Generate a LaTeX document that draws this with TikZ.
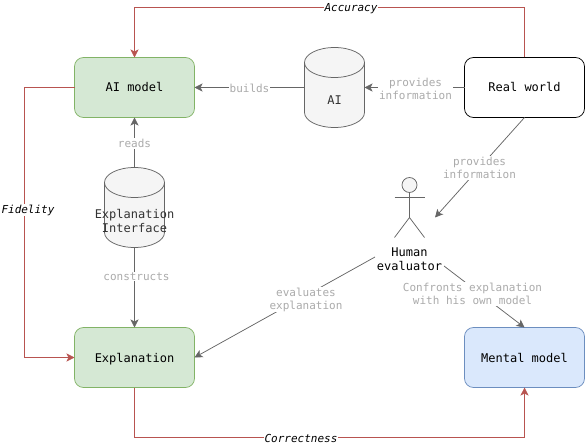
\documentclass[tikz,border=0pt]{standalone}
\usepackage{fontspec}
\setmainfont{DejaVu Sans Mono}
\usetikzlibrary{arrows.meta}
\definecolor{conngray}{HTML}{666666}
\definecolor{labgray}{HTML}{ABABAB}
\definecolor{redline}{HTML}{B85450}
\definecolor{greenfill}{HTML}{D5E8D4}
\definecolor{greenline}{HTML}{82B366}
\definecolor{bluefill}{HTML}{DAE8FC}
\definecolor{blueline}{HTML}{6C8EBF}
\definecolor{cylfill}{HTML}{F5F5F5}
\definecolor{cyltext}{HTML}{333333}
\tikzset{
  x=1pt,y=-1pt,
  every node/.style={outer sep=0pt},
  boxnode/.style={rectangle,rounded corners=9pt,minimum width=120pt,minimum height=60pt,line width=0.75pt,font=\fontsize{12}{14}\selectfont,text=black,text height=9pt,text depth=0pt},
  greenbox/.style={boxnode,draw=greenline,fill=greenfill},
  bluebox/.style={boxnode,draw=blueline,fill=bluefill},
  whitebox/.style={boxnode,draw=black,fill=white},
  cylnode/.style={rectangle,minimum width=60pt,minimum height=80pt,inner sep=0pt},
  cylpath/.style={draw=conngray,fill=cylfill,line width=0.75pt},
  cyllabel/.style={font=\fontsize{12}{14}\selectfont,text=cyltext,align=center,inner sep=0pt},
  conn/.style={draw=conngray,line width=0.75pt,-{Stealth[length=8pt,width=8pt,inset=2pt]}},
  redconn/.style={draw=redline,line width=0.75pt,-{Stealth[length=8pt,width=8pt,inset=2pt]}},
  edgelabel/.style={fill=white,text=labgray,align=center,inner sep=1pt,font=\fontsize{11}{13}\selectfont},
  redlabel/.style={fill=white,text=black,inner sep=0.5pt,font=\fontsize{11}{13}\selectfont\itshape},
  actorline/.style={draw=conngray,line width=0.75pt},
}
\newcommand{\cyldraw}[1]{%
  \draw[cylpath] ([yshift=-15pt]#1.north west) arc[start angle=180,end angle=0,x radius=30pt,y radius=15pt]
    -- ([yshift=15pt]#1.south east) arc[start angle=0,end angle=-180,x radius=30pt,y radius=15pt] -- cycle;
  \draw[cylpath,fill=none] ([yshift=-15pt]#1.north west) arc[start angle=180,end angle=360,x radius=30pt,y radius=15pt];
}
\begin{document}
\begin{tikzpicture}
\useasboundingbox (0,0) rectangle (585,446);
% boxes
\node[greenbox] (aimodel) at (134.5,87.5) {AI model};
\node[greenbox] (explanation) at (134.5,357.5) {Explanation};
\node[whitebox] (real) at (524.5,87.5) {Real world};
\node[bluebox] (mental) at (524.5,357.5) {Mental model};
% cylinders
\node[cylnode] (aicyl) at (334.5,87.5) {};
\node[cylnode] (ifcyl) at (134.5,207.5) {};
\cyldraw{aicyl}
\cyldraw{ifcyl}
\node[cyllabel] (aitext) at (334.5,100.5) {AI};
\node[cyllabel] (iftext) at (134.5,221) {Explanation\\Interface};
% actor
\node[circle,draw=conngray,fill=cylfill,line width=0.75pt,minimum size=15pt,inner sep=0pt] (head) at (409.5,185) {};
\coordinate (hip) at (409.5,217.5);
\coordinate (armL) at (394.5,197.5);
\coordinate (armR) at (424.5,197.5);
\coordinate (legL) at (394.5,237.5);
\coordinate (legR) at (424.5,237.5);
\draw[actorline] (head.south) -- (hip);
\draw[actorline] (armL) -- (armR);
\draw[actorline] (legL) -- (hip) -- (legR);
\node[align=center,inner sep=1pt,font=\fontsize{12}{14}\selectfont] (human) at (409.5,259) {Human\\evaluator};
% free ends
\coordinate (evalstart) at (375,257);
\coordinate (confstart) at (444,266);
\coordinate (humanpoint) at (435,217.5);
\coordinate (rail) at (24.5,222);
% grey connectors
\draw[conn] (aicyl.west) -- (aimodel.east);
\draw[conn] (real.west) -- (aicyl.east);
\draw[conn] (ifcyl.north) -- (aimodel.south);
\draw[conn] (ifcyl.south) -- (explanation.north);
\draw[conn] (real.south) -- (humanpoint);
\draw[conn] (evalstart) -- (explanation.east);
\draw[conn] (confstart) -- (mental.north);
% red connectors
\draw[redconn] (real.north) -- ++(0,-50) -| (aimodel.north);
\draw[redconn] (aimodel.west) -| (rail) |- (explanation.west);
\draw[redconn] (explanation.south) -- ++(0,50) -| (mental.south);
% labels
\node[edgelabel] (lbuilds) at (249.5,88) {builds};
\node[edgelabel] (lprov1) at (415.5,88.5) {provides\\information};
\node[edgelabel] (lreads) at (134.5,143.5) {reads};
\node[edgelabel] (lconstr) at (136.5,276.5) {constructs};
\node[edgelabel] (lprov2) at (479.5,168) {provides\\information};
\node[edgelabel] (leval) at (306,299.5) {evaluates\\explanation};
\node[edgelabel] (lconf) at (472.5,294) {Confronts explanation\\with his own model};
\node[redlabel] (lacc) at (351,9) {Accuracy};
\node[redlabel] (lfid) at (28,210) {Fidelity};
\node[redlabel] (lcorr) at (301,438) {Correctness};
\end{tikzpicture}
\end{document}
